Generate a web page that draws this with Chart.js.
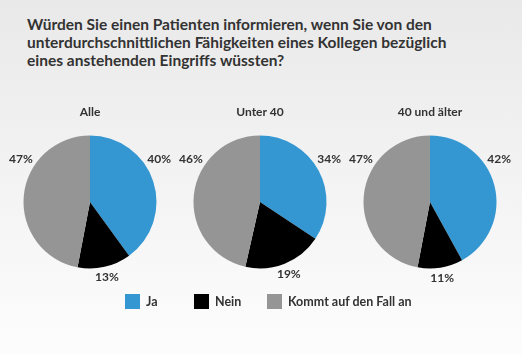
<!DOCTYPE html>
<html><head><meta charset="utf-8">
<script src="https://cdn.jsdelivr.net/npm/chart.js@4/dist/chart.umd.min.js"></script>
<style>
html,body{margin:0;padding:0;}
body{width:522px;height:355px;overflow:hidden;position:relative;background:linear-gradient(#e9e9e9,#fdfdfd);font-family:Lato,"Open Sans",sans-serif;color:#333;}
#title{position:absolute;left:27px;top:15px;font-weight:700;font-size:15.5px;line-height:18px;color:#333;white-space:nowrap;}
canvas{position:absolute;top:100px;}
#legend{position:absolute;top:294px;left:0;width:522px;height:16px;}
.item{position:absolute;top:0;height:15px;display:flex;align-items:center;font-weight:700;font-size:12.5px;color:#333;}
.sw{width:15px;height:15px;margin-right:6px;}
</style></head>
<body>
<div id="title">Würden Sie einen Patienten informieren, wenn Sie von den<br>unterdurchschnittlichen Fähigkeiten eines Kollegen bezüglich<br>eines anstehenden Eingriffs wüssten?</div>
<canvas id="c0" width="170" height="200" style="left:5px"></canvas>
<canvas id="c1" width="170" height="200" style="left:175px"></canvas>
<canvas id="c2" width="170" height="200" style="left:345px"></canvas>
<div id="legend"></div>
<script>
const categories = ["Ja", "Nein", "Kommt auf den Fall an"];
const groups = ["Alle", "Unter 40", "40 und älter"];
const valuesAlle = [40, 13, 47];
const valuesUnter40 = [34, 19, 46];
const values40plus = [42, 11, 47];
const colors = ["#3497d2", "#000000", "#959595"];
const allValues = [valuesAlle, valuesUnter40, values40plus];

const labelPlugin = {
  id: 'outLabels',
  afterDatasetsDraw(chart) {
    const ctx = chart.ctx;
    const meta = chart.getDatasetMeta(0);
    const ds = chart.data.datasets[0];
    ctx.save();
    ctx.font = 'bold 12px Lato, "Open Sans", sans-serif';
    ctx.fillStyle = '#333';
    ctx.textAlign = 'center';
    ctx.textBaseline = 'middle';
    meta.data.forEach((arc, i) => {
      const p = arc.getProps(['x','y','startAngle','endAngle','outerRadius'], true);
      let mid = (p.startAngle + p.endAngle) / 2;
      let fromTop = mid + Math.PI / 2;
      let r;
      if (Math.cos(fromTop) > 0) {
        const side = Math.sin(fromTop) >= 0 ? 1 : -1;
        fromTop = side * 58 * Math.PI / 180;
        r = p.outerRadius + 15;
      } else {
        r = p.outerRadius + 11;
      }
      const x = p.x + Math.sin(fromTop) * r;
      const y = p.y - Math.cos(fromTop) * r;
      ctx.fillText(ds.data[i] + '%', x, y);
    });
    ctx.restore();
  }
};

allValues.forEach((vals, k) => {
  new Chart(document.getElementById('c' + k), {
    type: 'pie',
    data: { labels: categories, datasets: [{ data: vals, backgroundColor: colors, borderWidth: 0 }] },
    options: {
      responsive: false, animation: false, devicePixelRatio: 1,
      layout: { padding: { left: 18.5, right: 18.5, top: 0, bottom: 31.5 } },
      plugins: {
        legend: { display: false }, tooltip: { enabled: false },
        title: { display: true, text: groups[k], color: '#333',
          font: { family: 'Lato, "Open Sans", sans-serif', size: 12, weight: 'bold' },
          padding: { top: 5, bottom: 16 } }
      }
    },
    plugins: [labelPlugin]
  });
});

const legend = document.getElementById('legend');
const legendX = [125, 194, 267];
categories.forEach((c, i) => {
  const d = document.createElement('div');
  d.className = 'item';
  d.style.left = legendX[i] + 'px';
  d.innerHTML = '<span class="sw" style="background:' + colors[i] + '"></span>' + c;
  legend.appendChild(d);
});
</script>
</body></html>
